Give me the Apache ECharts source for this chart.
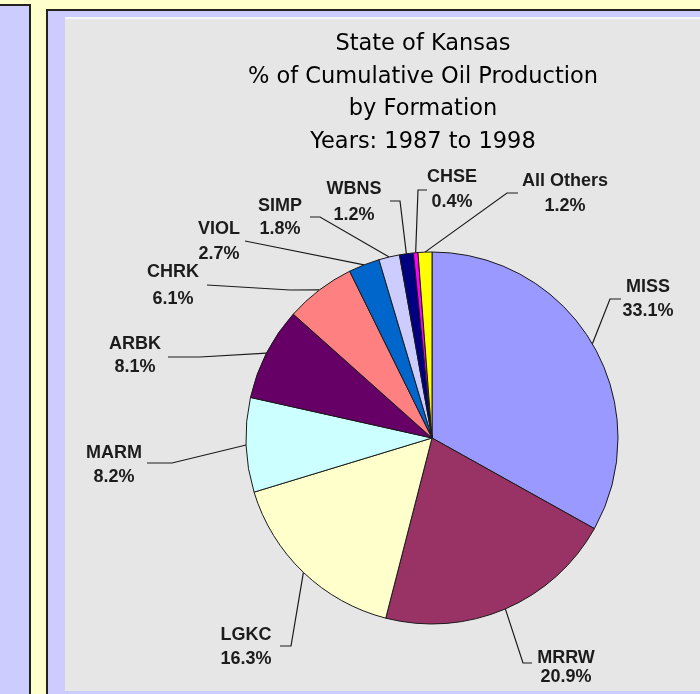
<!DOCTYPE html>
<html>
<head>
<meta charset="utf-8">
<script src="https://cdn.jsdelivr.net/npm/echarts@6/dist/echarts.min.js"></script>
<style>
  html, body { margin: 0; padding: 0; background: #ffffcc; }
  #chart { width: 700px; height: 694px; }
</style>
</head>
<body>
<div id="chart"></div>
<script>
// ---- data ----
const titleLines = ['State of Kansas', '% of Cumulative Oil Production', 'by Formation', 'Years: 1987 to 1998'];
const categories = ['MISS', 'MRRW', 'LGKC', 'MARM', 'ARBK', 'CHRK', 'VIOL', 'SIMP', 'WBNS', 'CHSE', 'All Others'];
const shares = [33.1, 20.9, 16.3, 8.2, 8.1, 6.1, 2.7, 1.8, 1.2, 0.4, 1.2];

// ---- styles / layout (not data) ----
const sliceColors = ['#9999ff', '#993366', '#ffffcc', '#ccffff', '#660066', '#ff8080', '#0066cc', '#ccccff', '#000080', '#ff00ff', '#ffff00'];
// label block centre [x, y], leader elbow, leader end
const labelCentre = [[648, 299], [566, 668], [246, 647], [114, 465], [135, 356], [173, 286], [219, 242], [280, 218], [354, 202], [452, 190], [565, 194]];
const leaderElbow = [[610, 299], [523, 663], [291, 646], [172, 463], [200, 357], [290, 290], [260, 244], [320, 217], [400, 201], [418, 190], [507, 193]];
const leaderEnd = [[621, 299], [532, 663], [280, 646], [147, 463], [168, 357], [207, 285], [245, 241], [310, 217], [390, 201], [427, 190], [518, 193]];
const labelLineH = [24, 19, 24, 24, 23, 27, 25, 23, 26, 25, 25];

const chart = echarts.init(document.getElementById('chart'), null, { renderer: 'canvas' });

const pieData = categories.map((name, i) => ({
  name: name,
  value: shares[i],
  itemStyle: { color: sliceColors[i] },
  label: { lineHeight: labelLineH[i] }
}));

const option = {
  backgroundColor: '#ffffcc',
  animation: false,
  graphic: [
    { type: 'rect', z: -10, shape: { x: -10, y: 5, width: 40, height: 720 }, style: { fill: '#ccccff', stroke: '#222', lineWidth: 2 } },
    { type: 'rect', z: -10, shape: { x: 47, y: 10, width: 700, height: 720 }, style: { fill: '#ccccff', stroke: '#222', lineWidth: 2 } },
    { type: 'rect', z: -9, shape: { x: 65, y: 17, width: 650, height: 674 }, style: { fill: '#e6e6e6', stroke: null } },
    { type: 'rect', z: -8, shape: { x: 65, y: 17, width: 650, height: 2 }, style: { fill: '#f6f6f6', stroke: null } }
  ],
  title: {
    text: titleLines.join('\n'),
    left: 418,
    top: 23,
    textAlign: 'center',
    textStyle: {
      fontFamily: 'DejaVu Sans',
      fontSize: 22.5,
      fontWeight: 'normal',
      color: '#000000',
      lineHeight: 32.5
    }
  },
  series: [{
    type: 'pie',
    center: [432, 438],
    radius: 186,
    startAngle: 90,
    clockwise: true,
    avoidLabelOverlap: false,
    minAngle: 0,
    itemStyle: { borderColor: '#1a1a1a', borderWidth: 1 },
    label: {
      show: true,
      position: 'outside',
      formatter: function (p) { return p.name + '\n' + p.value.toFixed(1) + '%'; },
      fontFamily: 'Liberation Sans, Arial, sans-serif',
      fontWeight: 'bold',
      fontSize: 18,
      color: '#1c1c1c',
      align: 'center'
    },
    labelLine: {
      show: true,
      length: 10,
      length2: 10,
      lineStyle: { color: '#1a1a1a', width: 1.2 }
    },
    emphasis: { disabled: true },
    labelLayout: function (params) {
      const i = params.dataIndex;
      const pts = params.labelLinePoints;
      const start = pts && pts[0] ? pts[0] : leaderElbow[i];
      return {
        x: labelCentre[i][0],
        y: labelCentre[i][1],
        align: 'center',
        verticalAlign: 'middle',
        labelLinePoints: [start, leaderElbow[i], leaderEnd[i]]
      };
    },
    data: pieData
  }]
};

chart.setOption(option);
</script>
</body>
</html>
